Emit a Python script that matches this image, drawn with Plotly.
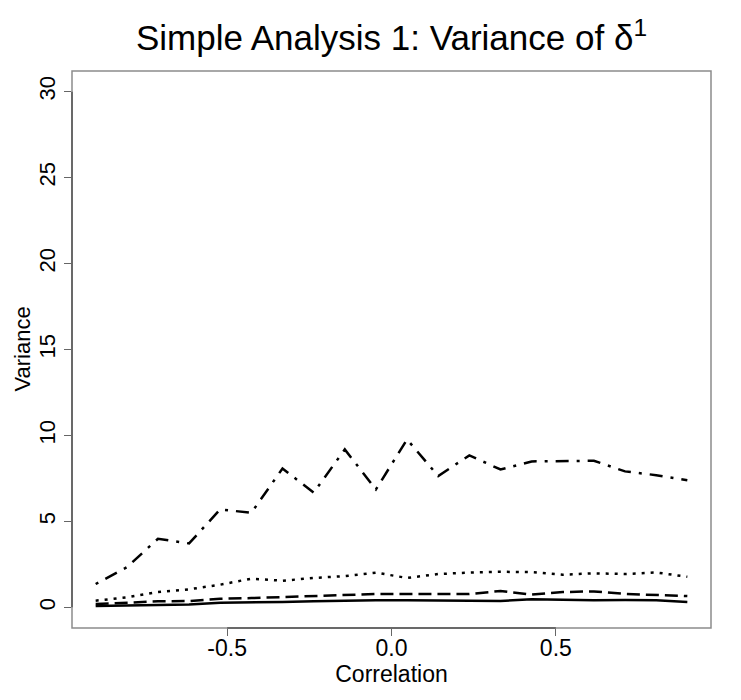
import plotly.graph_objects as go

# correlation grid (20 points between -0.9 and 0.9)
correlation = [-0.9, -0.8053, -0.7105, -0.6158, -0.5211, -0.4263, -0.3316, -0.2368,
               -0.1421, -0.0474, 0.0474, 0.1421, 0.2368, 0.3316, 0.4263, 0.5211,
               0.6158, 0.7105, 0.8053, 0.9]

var_solid = [0.08, 0.12, 0.16, 0.17, 0.27, 0.27, 0.31, 0.35, 0.39, 0.41,
             0.41, 0.41, 0.39, 0.37, 0.47, 0.43, 0.41, 0.43, 0.41, 0.31]
var_dashed = [0.19, 0.27, 0.35, 0.37, 0.50, 0.54, 0.60, 0.66, 0.74, 0.78,
              0.78, 0.78, 0.78, 0.95, 0.74, 0.89, 0.93, 0.78, 0.70, 0.66]
var_dotted = [0.39, 0.58, 0.89, 1.05, 1.32, 1.67, 1.55, 1.71, 1.82, 2.02,
              1.71, 1.94, 2.02, 2.07, 2.05, 1.90, 1.98, 1.94, 2.03, 1.78]
var_dotdash = [1.36, 2.33, 3.99, 3.72, 5.70, 5.50, 8.08, 6.67, 9.19, 6.86,
               9.77, 7.64, 8.84, 8.02, 8.49, 8.53, 8.53, 7.91, 7.69, 7.40]

x_ticks = [-0.5, 0.0, 0.5]
x_labels = ["-0.5", "0.0", "0.5"]
y_ticks = [0, 5, 10, 15, 20, 25, 30]

FONT = "Liberation Sans, Arial, Helvetica, sans-serif"

series = [
    (var_solid, "solid"),
    (var_dashed, "13px,6px"),
    (var_dotted, "3px,6px"),
    (var_dotdash, "3px,8px,13px,8px"),
]

fig = go.Figure()
for values, dash in series:
    fig.add_trace(go.Scatter(x=correlation, y=values, mode="lines",
                             line=dict(color="black", width=2.5, dash=dash),
                             showlegend=False))

# R style box + axis segments spanning only the tick range
fig.add_shape(type="rect", xref="paper", yref="paper", x0=0, x1=1, y0=0, y1=1,
              line=dict(color="#8c8c8c", width=1.5))
fig.add_shape(type="line", xref="x", yref="paper", x0=-0.5, x1=0.5, y0=0, y1=0,
              line=dict(color="#555555", width=1.5))
fig.add_shape(type="line", xref="paper", yref="y", x0=0, x1=0, y0=0, y1=30,
              line=dict(color="#555555", width=1.5))

# y axis title placed by hand (standoff is ignored without automargin)
fig.add_annotation(text="Variance", xref="paper", yref="paper", x=0, y=0.5,
                   xanchor="center", yanchor="middle", xshift=-50,
                   textangle=-90, showarrow=False, font=dict(size=22))

# page body adds an 8px offset, margins are shifted to compensate
fig.update_layout(
    width=741, height=700,
    margin=dict(l=64, r=38, t=63, b=80, autoexpand=False),
    paper_bgcolor="white", plot_bgcolor="white",
    font=dict(family=FONT, color="black"),
    title=dict(text="Simple Analysis 1: Variance of δ<sup>1</sup>",
               x=0.5, xref="paper", xanchor="center",
               y=1 - 30 / 700, yref="container", yanchor="middle",
               font=dict(size=35, family=FONT)),
    xaxis=dict(range=[-0.972, 0.972], tickvals=x_ticks, ticktext=x_labels,
               ticks="outside", ticklen=7, tickcolor="#666666", tickwidth=1.2,
               showgrid=False, zeroline=False, showline=False, automargin=False,
               tickfont=dict(size=23), ticklabelstandoff=-8,
               title=dict(text="Correlation", font=dict(size=23), standoff=2)),
    yaxis=dict(range=[-1.2, 31.2], tickvals=y_ticks, tickangle=-90,
               ticks="outside", ticklen=7, tickcolor="#666666", tickwidth=1.2,
               showgrid=False, zeroline=False, showline=False, automargin=False,
               tickfont=dict(size=22)),
)

fig.write_html("out.html")
